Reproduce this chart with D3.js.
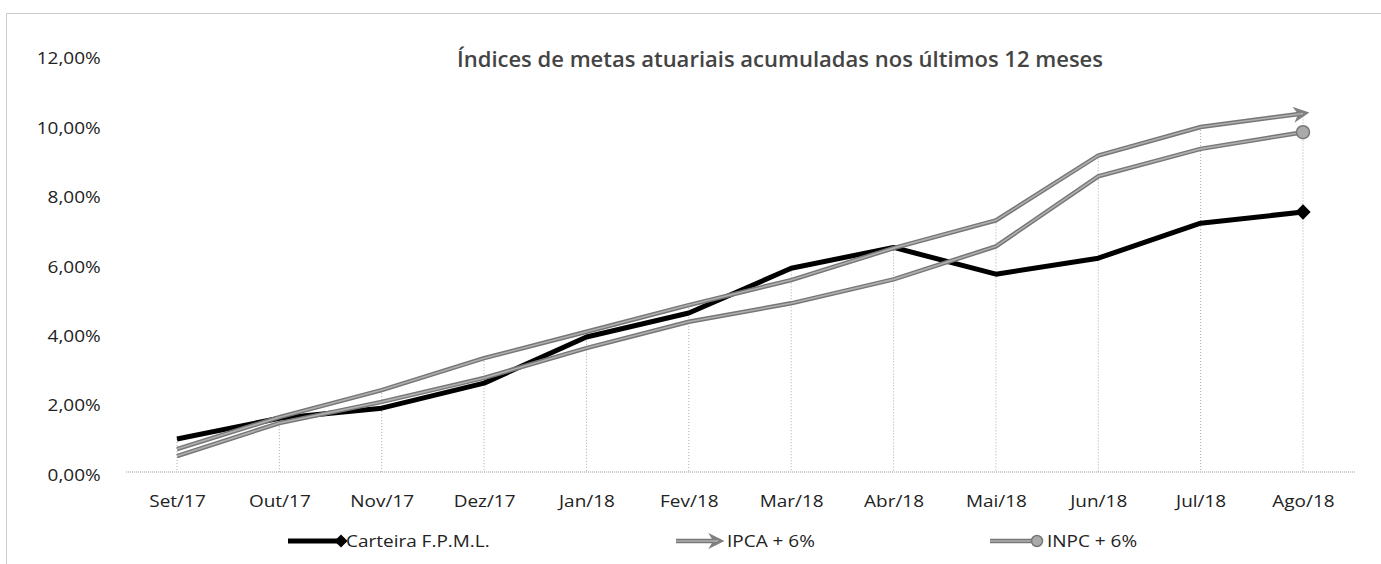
<!DOCTYPE html>
<html>
<head>
<meta charset="utf-8">
<script src="https://cdn.jsdelivr.net/npm/d3@7"></script>
<style>
  body { margin: 0; background: #fff; }
  svg text { font-family: "Open Sans", sans-serif; }
</style>
</head>
<body>
<div id="chart"></div>
<script>
const months = ["Set/17", "Out/17", "Nov/17", "Dez/17", "Jan/18", "Fev/18",
  "Mar/18", "Abr/18", "Mai/18", "Jun/18", "Jul/18", "Ago/18"]
const carteira = [0.95, 1.55, 1.84, 2.56, 3.89, 4.58, 5.87, 6.47, 5.70, 6.16, 7.17, 7.49]
const ipca = [0.66, 1.58, 2.36, 3.28, 4.04, 4.81, 5.53, 6.45, 7.25, 9.12, 9.94, 10.33]
const inpc = [0.46, 1.41, 2.02, 2.71, 3.57, 4.33, 4.86, 5.55, 6.50, 8.52, 9.31, 9.79]
const yTicks = [0, 2, 4, 6, 8, 10, 12]
const seriesNames = ["Carteira F.P.M.L.", "IPCA + 6%", "INPC + 6%"]
const title = "Índices de metas atuariais acumuladas nos últimos 12 meses"

const width = 1381, height = 564
const stretch = 1.15

const ptBR = d3.formatLocale({ decimal: ",", thousands: ".", grouping: [3], currency: ["R$", ""] })
const fmt = v => ptBR.format(".2f")(v) + "%"

const svg = d3.select("#chart").append("svg")
  .attr("width", width)
  .attr("height", height)

// chart border (scanned dotted frame)
svg.append("rect")
  .attr("x", 6.5).attr("y", 13.5)
  .attr("width", 1500).attr("height", 700)
  .attr("fill", "none")
  .attr("stroke", "#999")
  .attr("stroke-dasharray", "1,1")

const defs = svg.append("defs")
defs.append("marker")
  .attr("id", "arrow")
  .attr("viewBox", "0 0 10 10")
  .attr("refX", 6).attr("refY", 5)
  .attr("markerWidth", 3.6).attr("markerHeight", 3.6)
  .attr("markerUnits", "strokeWidth")
  .attr("orient", "auto")
  .append("path")
  .attr("d", "M0,0 L10,5 L0,10 L3,5 Z")
  .attr("fill", "#808080")

const x = d3.scalePoint().domain(months).range([177, 1303])
const y = d3.scaleLinear().domain([0, 12]).range([472, 55.5])

// title
svg.append("text")
  .attr("x", 457).attr("y", 67)
  .attr("textLength", 646)
  .attr("lengthAdjust", "spacingAndGlyphs")
  .attr("font-size", 21)
  .attr("font-weight", 600)
  .attr("fill", "#444")
  .text(title)

// y axis
const yAxis = svg.append("g")
  .attr("transform", "translate(111,3)")
  .call(d3.axisLeft(y).tickValues(yTicks).tickFormat(fmt).tickSize(0).tickPadding(9))
yAxis.select(".domain").remove()
yAxis.selectAll("text")
  .attr("font-size", 16.5)
  .attr("fill", "#222")
  .attr("transform", `scale(${stretch},1)`)

// drop lines from the highest point down to the axis
svg.append("g")
  .selectAll("line")
  .data(months)
  .join("line")
  .attr("x1", d => x(d)).attr("x2", d => x(d))
  .attr("y1", (d, i) => y(Math.max(carteira[i], ipca[i], inpc[i])))
  .attr("y2", y(0))
  .attr("stroke", "#aaa")
  .attr("stroke-dasharray", "1,2")

// x axis
const xAxis = svg.append("g")
  .attr("transform", `translate(0,${y(0)})`)
  .call(d3.axisBottom(x).tickSize(0).tickPadding(23))
xAxis.select(".domain")
  .attr("d", "M126,0H1355")
  .attr("stroke", "#999")
  .attr("stroke-dasharray", "1,1")
xAxis.selectAll("text")
  .attr("font-size", 16.5)
  .attr("fill", "#222")
  .attr("transform", `scale(${stretch},1)`)

const line = d3.line()
  .x((d, i) => x(months[i]))
  .y(d => y(d))

// Carteira
svg.append("path")
  .attr("d", line(carteira))
  .attr("fill", "none")
  .attr("stroke", "#000")
  .attr("stroke-width", 5)
  .attr("stroke-linejoin", "round")
svg.append("path")
  .attr("d", d3.symbol(d3.symbolDiamond2, 150)())
  .attr("transform", `translate(${x(months[11])},${y(carteira[11])})`)
  .attr("fill", "#000")

// IPCA
svg.append("path")
  .attr("d", line(ipca))
  .attr("fill", "none")
  .attr("stroke", "#777")
  .attr("stroke-width", 4.5)
  .attr("marker-end", "url(#arrow)")
svg.append("path")
  .attr("d", line(ipca))
  .attr("fill", "none")
  .attr("stroke", "#b0b0b0")
  .attr("stroke-width", 1.6)

// INPC
svg.append("path")
  .attr("d", line(inpc))
  .attr("fill", "none")
  .attr("stroke", "#777")
  .attr("stroke-width", 4.5)
svg.append("path")
  .attr("d", line(inpc))
  .attr("fill", "none")
  .attr("stroke", "#b0b0b0")
  .attr("stroke-width", 1.6)
svg.append("circle")
  .attr("cx", x(months[11])).attr("cy", y(inpc[11]))
  .attr("r", 6.5)
  .attr("fill", "#aaa")
  .attr("stroke", "#777")
  .attr("stroke-width", 1.5)

// legend
const legendY = 541
const legendX = [288, 676, 990]
const textX = [58, 51, 57]
const lg = svg.append("g")
seriesNames.forEach((name, i) => {
  const g = lg.append("g").attr("transform", `translate(${legendX[i]},${legendY})`)
  if (i === 0) {
    g.append("line").attr("x1", 0).attr("x2", 50)
      .attr("stroke", "#000").attr("stroke-width", 5)
    g.append("path").attr("d", d3.symbol(d3.symbolDiamond2, 110)())
      .attr("transform", "translate(53,0)").attr("fill", "#000")
  } else {
    g.append("line").attr("x1", 0).attr("x2", i === 1 ? 42 : 44)
      .attr("stroke", "#777").attr("stroke-width", 4.5)
      .attr("marker-end", i === 1 ? "url(#arrow)" : null)
    g.append("line").attr("x1", 0).attr("x2", i === 1 ? 42 : 44)
      .attr("stroke", "#b0b0b0").attr("stroke-width", 1.6)
    if (i === 2) {
      g.append("circle").attr("cx", 47).attr("r", 5.5)
        .attr("fill", "#aaa").attr("stroke", "#777").attr("stroke-width", 1.5)
    }
  }
  g.append("text")
    .attr("transform", `translate(${textX[i]},0) scale(${stretch},1)`)
    .attr("dy", "0.35em")
    .attr("font-size", 16.5)
    .attr("fill", "#222")
    .text(name)
})
</script>
</body>
</html>
